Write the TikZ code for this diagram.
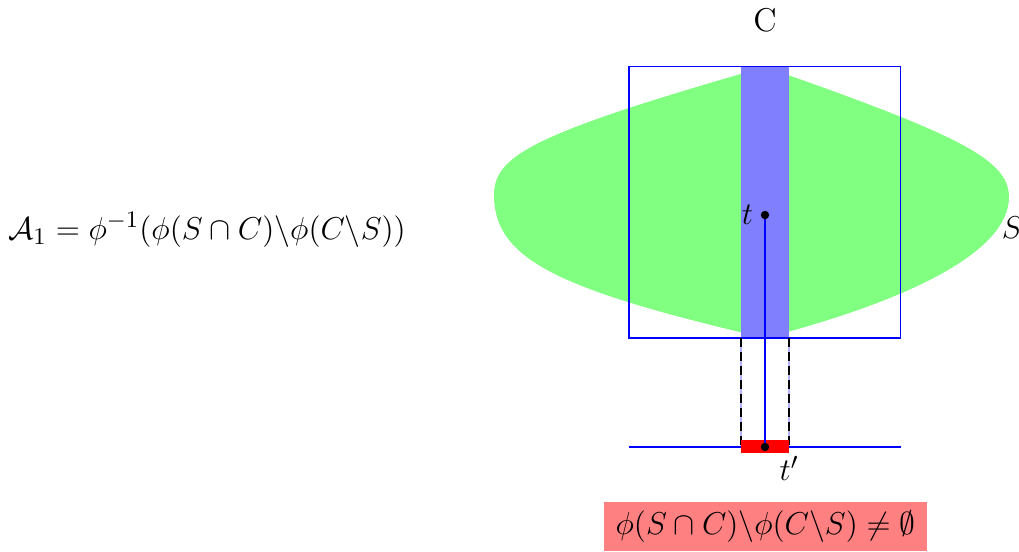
\documentclass[tikz,border=0pt]{standalone}
\usepackage{amsmath,amssymb}
\usetikzlibrary{positioning}

\begin{document}
\begin{tikzpicture}[every node/.style={font=\fontsize{12.5}{15}\selectfont}]
    \useasboundingbox (0,0) rectangle (13.587,7.36);
    % Set S
    \fill[green!50] (10.2,6.467) .. controls (7.133,5.587) and (6.587,5.293) .. (6.587,4.76)
        .. controls (6.587,3.893) and (7.467,3.493) .. (10.2,2.853)
        .. controls (12.2,3.373) and (13.453,4.027) .. (13.453,4.733)
        .. controls (13.453,5.227) and (12.8,5.56) .. (10.2,6.467);
    % Strip C
    \fill[blue!50] (9.88,2.853) rectangle (10.52,6.467);
    \draw[blue] (8.387,2.853) rectangle (12.013,6.467);
    % Projection of the strip
    \draw[blue!30] (9.88,2.853) -- (9.88,1.4);
    \draw[blue!30] (10.52,2.853) -- (10.52,1.4);
    \draw[thick, dash pattern=on 3.4pt off 1.9pt] (9.88,2.853) -- (9.88,1.4);
    \draw[thick, dash pattern=on 3.4pt off 1.9pt] (10.52,2.853) -- (10.52,1.4);
    \draw[blue, semithick] (8.387,1.4) -- (12.013,1.4);
    \fill[red] (9.88,1.32) rectangle (10.52,1.493);

    \coordinate (t) at (10.2,4.493);
    \coordinate (tp) at (10.2,1.4);
    \draw[blue, thick] (t) -- (tp);
    \fill (t) circle (1.6pt);
    \fill (tp) circle (1.6pt);
    \node[left=1pt of t] (tlabel) {$t$};
    \node[below right=0pt and 2pt of tp] (tplabel) {$t'$};
    \node[anchor=west, inner sep=0pt] (slabel) at (13.35,4.32) {$S$};
    \node (clabel) at (10.2,7.09) {C};

    \node (formula) at (2.76,4.293) {$\mathcal{A}_1 = \phi^{-1}(\phi(S\cap C)\backslash\phi(C\backslash S))$};
    \node[fill=red!50, minimum width=4.307cm, minimum height=0.653cm] (cond) at (10.207,0.34)
        {$\phi(S\cap C)\backslash\phi(C\backslash S)\neq\emptyset$};
\end{tikzpicture}
\end{document}
